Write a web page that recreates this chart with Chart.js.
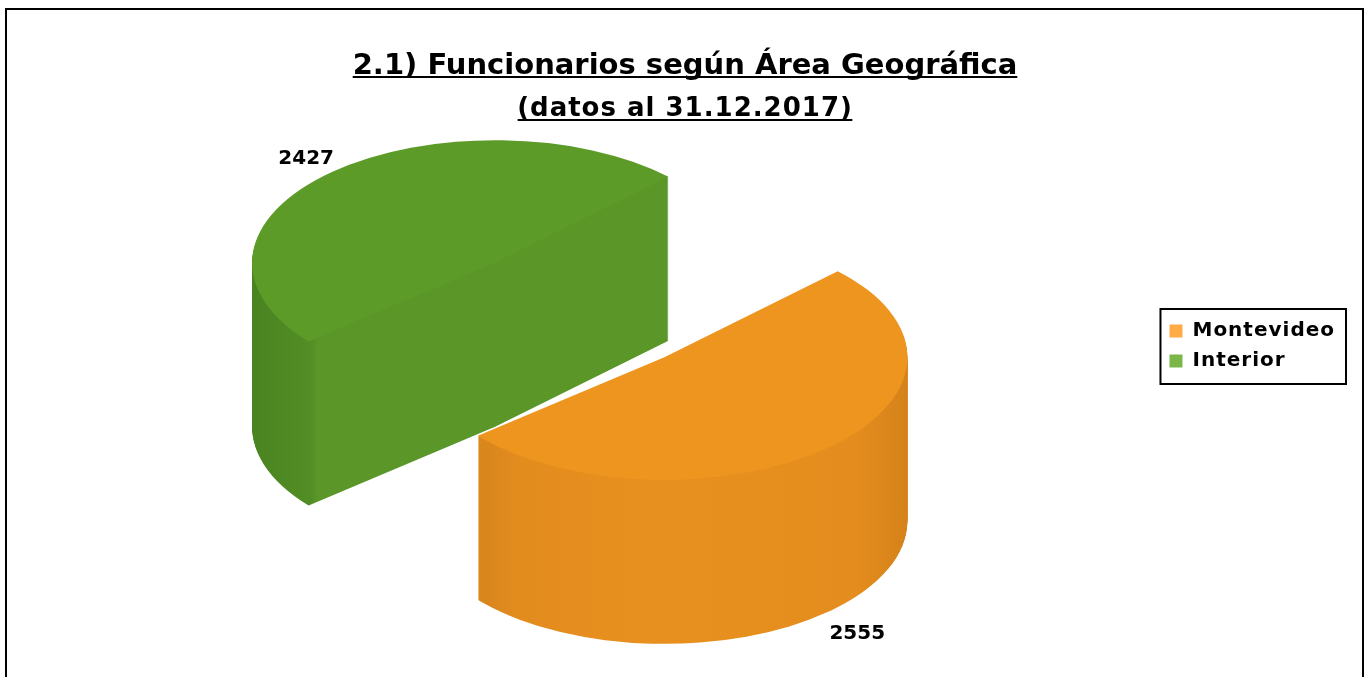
<!DOCTYPE html>
<html>
<head>
<meta charset="utf-8">
<title>Funcionarios según Área Geográfica</title>
<script src="https://cdn.jsdelivr.net/npm/chart.js@4.4.1/dist/chart.umd.min.js"></script>
<style>
  body { margin: 0; background: #fff; }
  canvas { display: block; }
</style>
</head>
<body>
<canvas id="areas" width="1370" height="677"></canvas>
<script>
// datos
var areas = ["Montevideo", "Interior"];
var funcionarios = [2555, 2427];
var topColors = ["#ee9520", "#5d9b29"];
var legendColors = ["#ffab46", "#7ab648"];
var titulo = "2.1) Funcionarios según Área Geográfica";
var subtitulo = "(datos al 31.12.2017)";

// side shading of each slice (gradient stops across the slice width)
var sideStops = [
  [[0, "#d6841c"], [0.13, "#d9861d"], [0.2, "#e38c1e"], [0.5, "#e8901f"], [0.9, "#e48c1d"], [1, "#d4821a"]],
  [[0, "#4a8421"], [0.12, "#528d25"], [0.135, "#5a9628"], [1, "#5a9628"]]
];

// 3d look
var TILT = 0.505, DEPTH = 164, EXPLODE = 126, LIFT = 36, LABEL_R = 1.17;

function mid(a) { return (a.startAngle + a.endAngle) / 2; }

// context that forces one fill colour, so the library can draw the side layers
function tinted(ctx, fill) {
  return new Proxy(ctx, {
    get: function(t, p) { var v = t[p]; return typeof v === 'function' ? v.bind(t) : v; },
    set: function(t, p, v) { t[p] = (p === 'fillStyle' || p === 'strokeStyle') ? fill : v; return true; }
  });
}

var pie3d = {
  id: 'pie3d',
  beforeLayout: function(chart) { chart.ctx.letterSpacing = '1px'; },
  beforeDraw: function(chart) { chart.ctx.letterSpacing = '1px'; },
  beforeDatasetsDraw: function(chart) {
    var ctx = chart.ctx;
    var arcs = chart.getDatasetMeta(0).data;
    if (!arcs.length) return;
    var cy = arcs[0].y;
    ctx.save();
    ctx.translate(0, cy - LIFT);
    ctx.scale(1, TILT);
    ctx.translate(0, -cy);
    var order = arcs.map(function(a, i) { return i; }).sort(function(i, j) {
      return Math.sin(mid(arcs[i])) - Math.sin(mid(arcs[j]));
    });
    order.forEach(function(i) {
      var a = arcs[i], m = mid(a), r = a.outerRadius;
      ctx.save();
      ctx.translate(Math.cos(m) * EXPLODE, Math.sin(m) * EXPLODE);
      var g = ctx.createLinearGradient(a.x - r, 0, a.x + r, 0);
      sideStops[i].forEach(function(s) { g.addColorStop(s[0], s[1]); });
      var side = tinted(ctx, g);
      for (var k = DEPTH; k > 0; k--) {
        ctx.save();
        ctx.translate(0, k / TILT);
        a.draw(side);
        ctx.restore();
      }
      a.draw(ctx);
      ctx.restore();
    });
    ctx.restore();
    return false;
  },
  afterDraw: function(chart) {
    var ctx = chart.ctx;
    var arcs = chart.getDatasetMeta(0).data;
    ctx.save();
    ctx.letterSpacing = '0px';
    ctx.fillStyle = '#000';
    ctx.textAlign = 'center';
    ctx.textBaseline = 'middle';
    ctx.font = 'bold 20px "DejaVu Sans"';
    // value labels
    arcs.forEach(function(a, i) {
      var m = mid(a), d = EXPLODE + LABEL_R * a.outerRadius;
      var x = a.x + Math.cos(m) * d;
      var y = a.y - LIFT + Math.sin(m) * d * TILT + (Math.sin(m) > 0 ? DEPTH + 4 : 0);
      ctx.fillText(String(chart.data.datasets[0].data[i]), x + 2, y + 2);
    });
    // titles, underlined
    var cx = chart.width / 2;
    ctx.textBaseline = 'alphabetic';
    ctx.font = 'bold 29px "DejaVu Sans"';
    ctx.fillText(titulo, cx, 74);
    var w = ctx.measureText(titulo).width;
    ctx.fillRect(cx - w / 2, 76, w, 2);
    ctx.font = 'bold 26px "DejaVu Sans"';
    ctx.letterSpacing = '1px';
    ctx.fillText(subtitulo, cx, 116);
    w = ctx.measureText(subtitulo).width - 1;
    ctx.fillRect(cx - w / 2, 119, w, 2);
    // legend frame
    var hb = chart.legend.legendHitBoxes;
    var l = Math.min.apply(null, hb.map(function(b) { return b.left; }));
    var t = Math.min.apply(null, hb.map(function(b) { return b.top; }));
    var rr = Math.max.apply(null, hb.map(function(b) { return b.left + b.width; }));
    var bb = Math.max.apply(null, hb.map(function(b) { return b.top + b.height; }));
    ctx.strokeStyle = '#000';
    ctx.lineWidth = 2;
    ctx.strokeRect(l - 9, t - 12, rr - l + 20, bb - t + 25);
    // outer border
    ctx.strokeRect(6, 9, 1357, 700);
    ctx.restore();
  }
};

var ctx = document.getElementById('areas').getContext('2d');
var chart = new Chart(ctx, {
  type: 'pie',
  data: {
    labels: areas,
    datasets: [{
      data: funcionarios,
      backgroundColor: topColors,
      borderWidth: 0,
      radius: 243,
      rotation: 45.5,
      clip: false
    }]
  },
  options: {
    responsive: false,
    animation: false,
    events: [],
    layout: { padding: { top: 130, bottom: 115, left: 0, right: 25 } },
    plugins: {
      tooltip: { enabled: false },
      legend: {
        position: 'right',
        labels: {
          boxWidth: 13,
          boxHeight: 13,
          padding: 10,
          color: '#000',
          font: { family: 'DejaVu Sans', size: 20, weight: 'bold' },
          generateLabels: function(chart) {
            return areas.map(function(name, i) {
              return { text: name, fillStyle: legendColors[i], strokeStyle: legendColors[i], lineWidth: 0, hidden: false, index: i };
            });
          }
        }
      }
    }
  },
  plugins: [pie3d]
});
</script>
</body>
</html>
